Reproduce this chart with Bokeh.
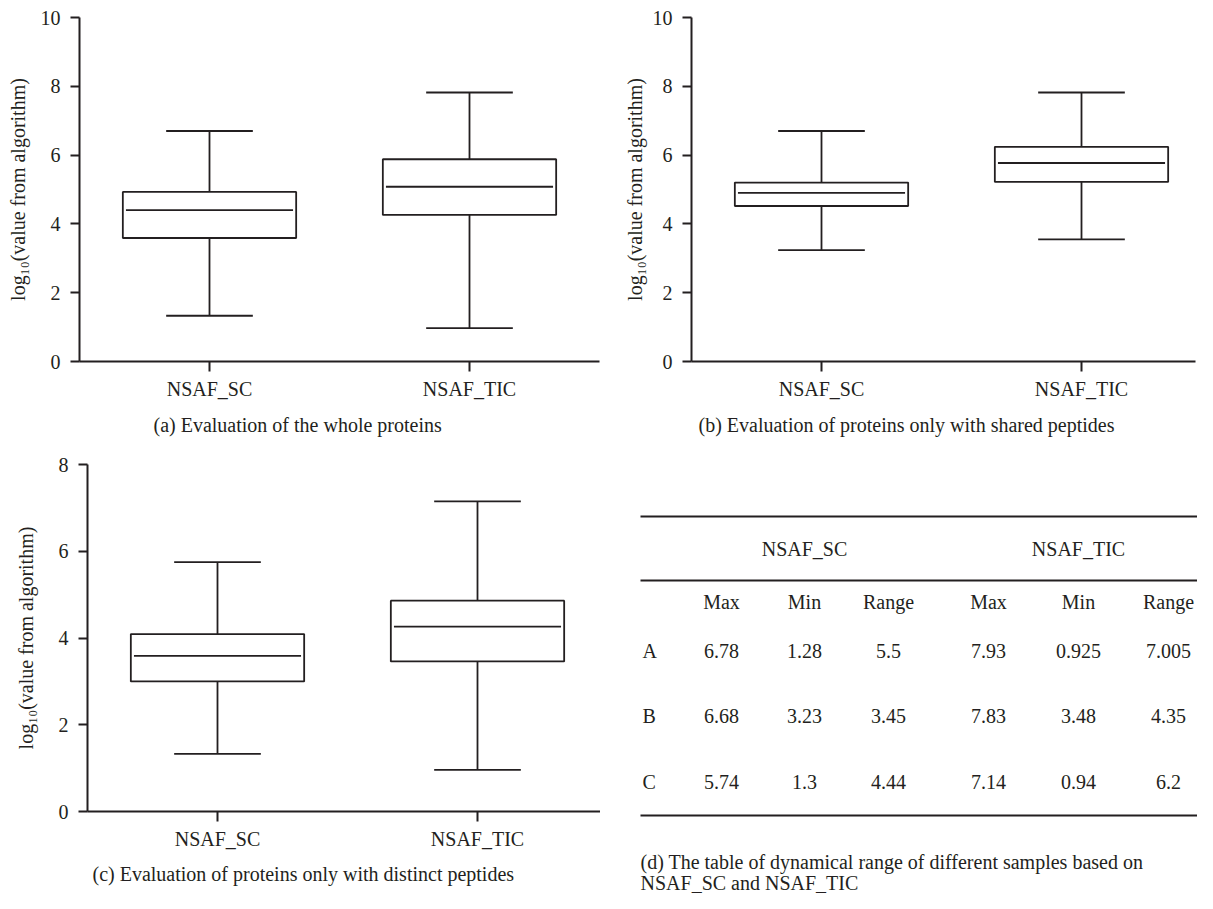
from bokeh.plotting import figure
from bokeh.layouts import row, column
from bokeh.models import Range1d, FixedTicker, ColumnDataSource, Title
from bokeh.embed import file_html
from bokeh.resources import INLINE
from bokeh.core.properties import value

# ---------------- data ----------------
categories = ["NSAF_SC", "NSAF_TIC"]

a_low = [1.33, 0.97]
a_q1 = [3.59, 4.26]
a_med = [4.40, 5.08]
a_q3 = [4.93, 5.88]
a_high = [6.70, 7.82]

b_low = [3.24, 3.55]
b_q1 = [4.52, 5.22]
b_med = [4.90, 5.77]
b_q3 = [5.20, 6.24]
b_high = [6.70, 7.82]

c_low = [1.33, 0.96]
c_q1 = [3.00, 3.46]
c_med = [3.59, 4.26]
c_q3 = [4.09, 4.86]
c_high = [5.75, 7.15]

table_groups = ["NSAF_SC", "NSAF_TIC"]
table_columns = ["Max", "Min", "Range", "Max", "Min", "Range"]
table_samples = ["A", "B", "C"]
sc_max = [6.78, 6.68, 5.74]
sc_min = [1.28, 3.23, 1.3]
sc_range = [5.5, 3.45, 4.44]
tic_max = [7.93, 7.83, 7.14]
tic_min = [0.925, 3.48, 0.94]
tic_range = [7.005, 4.35, 6.2]

captions = [
    "(a)  Evaluation of the whole proteins",
    "(b)  Evaluation of proteins only with shared peptides",
    "(c)  Evaluation of proteins only with distinct peptides",
]
caption_d = ["(d)  The table of dynamical range of different samples based on",
             "NSAF_SC and NSAF_TIC"]

FONT = "Liberation Serif"
INK = "#231f20"
FS = "20px"


def box_panel(low, q1, med, q3, high, ymax, caption, cap_offset, cap_standoff,
              label_standoff, width, height, xend,
              mb_left, mb_right, mb_top, mb_bottom):
    p = figure(width=width, height=height, x_range=Range1d(0.5, xend),
               y_range=Range1d(0, ymax), output_backend="svg",
               toolbar_location=None, min_border_left=mb_left,
               min_border_right=mb_right, min_border_top=mb_top,
               min_border_bottom=mb_bottom)
    p.frame_align = False
    p.outline_line_color = None
    p.xgrid.visible = False
    p.ygrid.visible = False
    pos = [i + 1 for i in range(len(categories))]
    half = 1 / 3
    src = ColumnDataSource(dict(
        x=pos, low=low, q1=q1, med=med, q3=q3, high=high,
        xl=[v - half for v in pos], xr=[v + half for v in pos],
        ml=[v - half + 0.012 for v in pos], mr=[v + half - 0.012 for v in pos],
        cl=[v - half / 2 for v in pos], cr=[v + half / 2 for v in pos],
    ))
    lw = 1.8
    # whiskers
    p.segment(x0="x", x1="x", y0="q3", y1="high", source=src, line_color=INK, line_width=lw)
    p.segment(x0="x", x1="x", y0="low", y1="q1", source=src, line_color=INK, line_width=lw)
    p.segment(x0="cl", x1="cr", y0="high", y1="high", source=src, line_color=INK, line_width=lw)
    p.segment(x0="cl", x1="cr", y0="low", y1="low", source=src, line_color=INK, line_width=lw)
    # box
    p.quad(left="xl", right="xr", bottom="q1", top="q3", source=src,
           fill_color="white", line_color=INK, line_width=lw)
    p.segment(x0="ml", x1="mr", y0="med", y1="med", source=src, line_color=INK, line_width=lw)

    # axes
    p.yaxis.ticker = FixedTicker(ticks=list(range(0, ymax + 1, 2)))
    p.xaxis.ticker = FixedTicker(ticks=pos)
    p.xaxis.major_label_overrides = {v: c for v, c in zip(pos, categories)}
    for ax in (p.xaxis[0], p.yaxis[0]):
        ax.axis_line_color = INK
        ax.axis_line_width = 2
        ax.major_tick_line_color = INK
        ax.major_tick_line_width = 2
        ax.major_tick_in = 0
        ax.minor_tick_in = 0
        ax.minor_tick_out = 0
        ax.major_label_text_font = FONT
        ax.major_label_text_font_size = FS
        ax.major_label_text_color = INK
    p.yaxis.major_tick_out = 9
    p.xaxis.major_tick_out = 10
    p.yaxis.major_label_standoff = 10
    p.xaxis.major_label_standoff = 6
    p.yaxis.axis_label = "log\u2081\u2080(value from algorithm)"
    p.yaxis.axis_label_text_font = FONT
    p.yaxis.axis_label_text_font_size = FS
    p.yaxis.axis_label_text_font_style = "normal"
    p.yaxis.axis_label_text_color = INK
    p.yaxis.axis_label_standoff = label_standoff

    p.add_layout(Title(text=caption, align="left", offset=cap_offset,
                       text_font=FONT, text_font_size=FS,
                       text_font_style="normal", text_color=INK,
                       standoff=cap_standoff), "below")
    return p


pa = box_panel(a_low, a_q1, a_med, a_q3, a_high, 10, captions[0], 74, 19, 9,
               600, 445, 2.5, 79, 1, 17, 84)
pb = box_panel(b_low, b_q1, b_med, b_q3, b_high, 10, captions[1], 7, 19, 4,
               597, 445, 0.5 + 504 / 260, 91, 2, 17, 84)
pc = box_panel(c_low, c_q1, c_med, c_q3, c_high, 8, captions[2], 5, 17, 19,
               600, 448, 0.5 + 513 / 260, 87, 0, 19, 82)

# ---------------- table panel ----------------
W, H = 597, 448
pd = figure(width=W, height=H, x_range=Range1d(0, W), y_range=Range1d(H, 0),
            output_backend="svg", toolbar_location=None,
            x_axis_location=None, y_axis_location=None,
            min_border=0, min_border_left=0, min_border_right=0,
            min_border_top=0, min_border_bottom=0)
pd.frame_align = False
pd.outline_line_color = None
pd.xgrid.visible = False
pd.ygrid.visible = False

rule_x0, rule_x1 = 40, 597
rule_y = [71, 135, 370]
pd.segment(x0=[rule_x0] * 3, x1=[rule_x1] * 3, y0=rule_y, y1=rule_y,
           line_color=INK, line_width=2)

col_x = [121, 204, 288, 388, 478, 568]
group_x = [col_x[1], col_x[4]]
header_y = 103
pd.text(x=group_x, y=[header_y] * 2, text=table_groups, text_align="center",
        text_baseline="middle", text_font=value(FONT), text_font_size=FS,
        text_color=INK)

sub_y = 156
pd.text(x=col_x, y=[sub_y] * 6, text=table_columns, text_align="center",
        text_baseline="middle", text_font=value(FONT), text_font_size=FS,
        text_color=INK)

row_y = [205, 270, 336]
pd.text(x=[42] * 3, y=row_y, text=table_samples, text_align="left",
        text_baseline="middle", text_font=value(FONT), text_font_size=FS,
        text_color=INK)

cols = [sc_max, sc_min, sc_range, tic_max, tic_min, tic_range]
tx, ty, tt = [], [], []
for ci, colvals in enumerate(cols):
    for ri, v in enumerate(colvals):
        tx.append(col_x[ci])
        ty.append(row_y[ri])
        tt.append(str(v))
pd.text(x=tx, y=ty, text=tt, text_align="center", text_baseline="middle",
        text_font=value(FONT), text_font_size=FS, text_color=INK)

pd.text(x=[40, 40], y=[416, 437], text=caption_d, text_align="left",
        text_baseline="middle", text_font=value(FONT), text_font_size=FS,
        text_color=INK)

layout = row(column(pa, pc), column(pb, pd))
open("out.html", "w").write(file_html(layout, INLINE))
